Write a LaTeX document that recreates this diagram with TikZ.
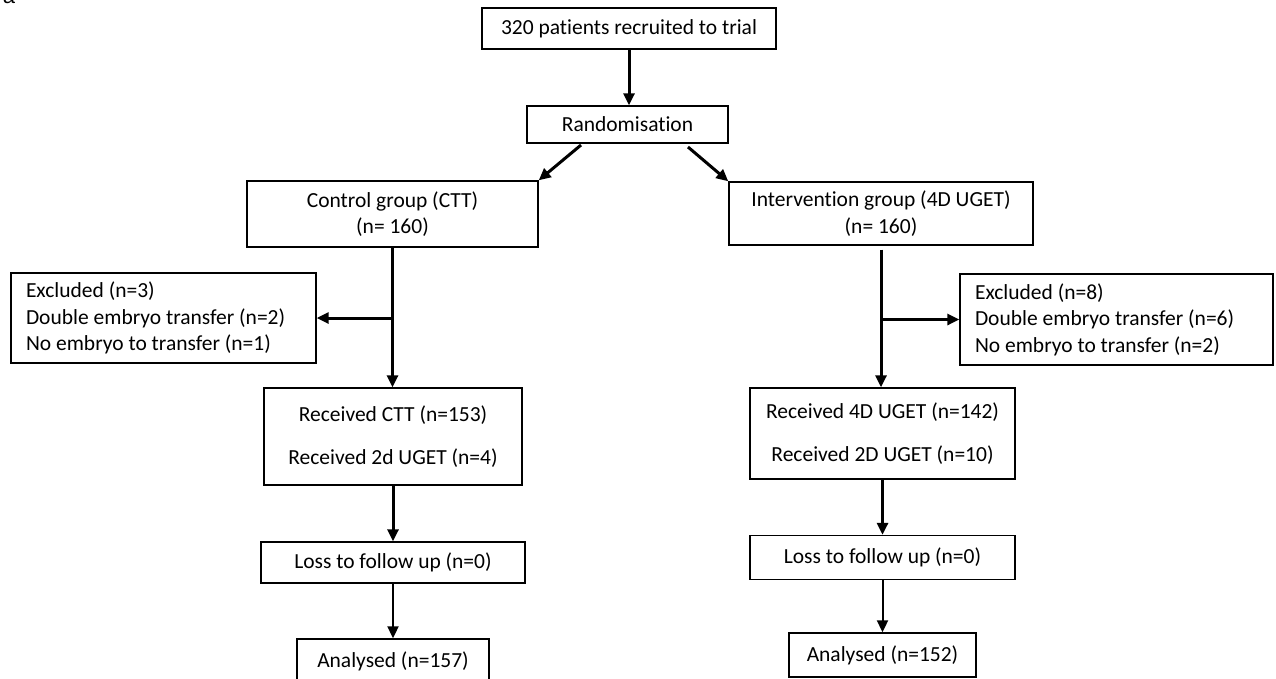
\documentclass[tikz,border=0pt]{standalone}
\usepackage{fontspec}
\setmainfont{Carlito}[Ligatures=NoCommon]
\setsansfont{Liberation Sans}
\usetikzlibrary{arrows.meta}
\begin{document}
\begin{tikzpicture}[x=1pt,y=-1pt,
  every node/.style={font=\fontsize{21.5}{26.5}\selectfont},
  box/.style={draw, line width=1.4pt, inner sep=0pt, align=center},
  lbox/.style={draw, line width=1.4pt, inner xsep=15pt, inner ysep=0pt, align=flush left},
  thk/.style={line width=3pt, -{Triangle[length=12pt,width=11pt]}},
  thn/.style={line width=2pt, -{Triangle[length=12pt,width=11pt]}}]
\useasboundingbox (0,0) rectangle (1276,678);
\node[font=\sffamily\fontsize{22}{26}\selectfont, anchor=base] (lab) at (9,3) {a};
% boxes
\node[box, minimum width=294pt, minimum height=41pt] (top) at (629,28.5) {320 patients recruited to trial};
\node[box, minimum width=201pt, minimum height=37pt] (rand) at (627.5,124.5) {Randomisation};
\node[box, minimum width=291pt, minimum height=66pt] (ctrl) at (392.5,214) {Control group (CTT)\\(n= 160)};
\node[box, minimum width=304pt, minimum height=63pt] (intv) at (881,213.5) {Intervention group (4D UGET)\\(n= 160)};
\node[lbox, text width=275pt, minimum height=90pt] (exL) at (163.5,318) {Excluded (n=3)\\Double embryo transfer (n=2)\\No embryo to transfer (n=1)};
\node[lbox, text width=283pt, minimum height=91pt] (exR) at (1116.5,319.5) {Excluded (n=8)\\Double embryo transfer (n=6)\\No embryo to transfer (n=2)};
\node[box, minimum width=258pt, minimum height=97pt] (recC) at (393,436.5) {Received CTT (n=153)\\[17pt]Received 2d UGET (n=4)};
\node[box, minimum width=265pt, minimum height=91pt] (recI) at (882.5,433.5) {Received 4D UGET (n=142)\\[17pt]Received 2D UGET (n=10)};
\node[box, minimum width=264pt, minimum height=41pt] (lossC) at (393,562.5) {Loss to follow up (n=0)};
\node[box, minimum width=265pt, minimum height=44pt] (lossI) at (882.5,557.5) {Loss to follow up (n=0)};
\node[box, minimum width=192pt, minimum height=44pt] (anC) at (393,661) {Analysed (n=157)};
\node[box, minimum width=187pt, minimum height=44pt] (anI) at (882.5,655) {Analysed (n=152)};
% connectors
\coordinate (r1) at (581,145);
\coordinate (r2) at (688,147);
\draw[thk] (top.south) -- (top.south |- rand.north);
\draw[thk] (r1) -- (ctrl.north east);
\draw[thk] (r2) -- (intv.north west);
\draw[thk] (ctrl.south) -- (ctrl.south |- recC.north);
\draw[thk] (ctrl.south |- exL.east) -- (exL.east);
\draw[thk] (recC.south) -- (recC.south |- lossC.north);
\draw[thn] (lossC.south) -- (lossC.south |- anC.north);
\draw[thk] ([yshift=-4pt]intv.south) -- (intv.south |- recI.north);
\draw[thk] (intv.south |- exR.west) -- (exR.west);
\draw[thk] (recI.south) -- (recI.south |- lossI.north);
\draw[thn] (lossI.south) -- (lossI.south |- anI.north);
\end{tikzpicture}
\end{document}
